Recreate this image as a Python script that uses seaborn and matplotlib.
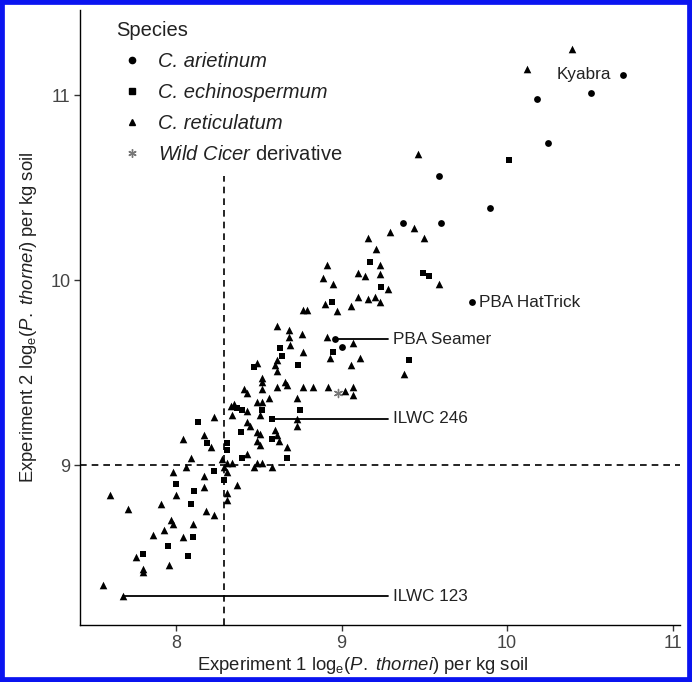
import matplotlib
matplotlib.use("Agg")
import matplotlib.pyplot as plt
import seaborn as sns
import pandas as pd
from matplotlib.lines import Line2D
from matplotlib.patches import Rectangle

# ---- data ----
ari_x = [10.70, 10.51, 10.18, 10.25, 9.59, 9.90, 9.37, 9.60, 9.79, 8.96, 9.00]
ari_y = [11.11, 11.01, 10.98, 10.74, 10.56, 10.39, 10.31, 10.31, 9.88, 9.68, 9.64]

ech_x = [10.01, 9.17, 9.49, 9.53, 9.24, 8.94, 9.41, 8.95, 8.63, 8.64, 8.74, 8.47,
         8.37, 8.40, 8.52, 8.75, 8.58, 8.13, 8.39, 8.58, 8.19, 8.31, 8.31, 8.67,
         8.40, 8.23, 8.00, 8.29, 8.11, 8.09, 8.10, 7.95, 7.80, 8.07]
ech_y = [10.65, 10.10, 10.04, 10.02, 9.96, 9.88, 9.57, 9.61, 9.63, 9.59, 9.54, 9.53,
         9.31, 9.30, 9.30, 9.30, 9.25, 9.23, 9.18, 9.14, 9.12, 9.12, 9.08, 9.04,
         9.04, 8.97, 8.90, 8.92, 8.86, 8.79, 8.61, 8.56, 8.52, 8.51]

ret_x = [10.39, 10.12, 9.46, 9.44, 9.50, 9.59, 9.29, 9.16, 9.21, 9.23, 8.91, 8.89,
         8.95, 9.10, 9.14, 9.23, 9.28, 9.10, 9.16, 9.20, 9.23, 8.90, 9.06, 8.97,
         8.77, 8.79, 9.38, 8.91, 9.07, 8.93, 9.11, 9.06, 8.61, 8.68, 8.76, 8.68,
         8.69, 8.77, 8.61, 8.60, 8.61, 8.49, 8.52, 8.52, 8.41, 8.43, 8.52, 8.61,
         8.66, 8.67, 8.77, 8.83, 8.92, 9.02, 9.07, 9.07, 8.73, 8.33, 8.35, 8.43,
         8.49, 8.56, 8.52, 8.51, 8.34, 8.23, 8.73, 8.73, 8.43, 8.45, 8.49, 8.51,
         8.60, 8.61, 8.62, 8.04, 8.17, 8.21, 8.49, 8.51, 8.67, 8.09, 8.28, 8.31,
         8.34, 8.43, 8.49, 8.52, 8.58, 8.47, 8.06, 8.31, 7.98, 8.17, 8.17, 8.37,
         8.00, 8.31, 8.31, 7.60, 7.71, 7.91, 8.18, 8.23, 7.97, 7.98, 8.10, 7.93,
         7.86, 8.04, 7.76, 7.96, 7.80, 7.80, 7.56, 7.68, 8.29]
ret_y = [11.25, 11.14, 10.68, 10.28, 10.23, 9.98, 10.26, 10.23, 10.17, 10.08, 10.08, 10.01,
         9.98, 10.04, 10.02, 10.03, 9.95, 9.91, 9.90, 9.91, 9.88, 9.87, 9.86, 9.83,
         9.84, 9.84, 9.49, 9.69, 9.66, 9.58, 9.58, 9.54, 9.75, 9.73, 9.71, 9.69,
         9.65, 9.61, 9.57, 9.54, 9.51, 9.55, 9.47, 9.45, 9.41, 9.39, 9.41, 9.42,
         9.45, 9.43, 9.42, 9.42, 9.42, 9.40, 9.42, 9.38, 9.36, 9.32, 9.33, 9.29,
         9.34, 9.36, 9.34, 9.27, 9.27, 9.26, 9.25, 9.21, 9.23, 9.21, 9.18, 9.17,
         9.19, 9.16, 9.13, 9.14, 9.16, 9.10, 9.13, 9.11, 9.10, 9.04, 9.03, 9.01,
         9.01, 9.06, 9.01, 9.01, 8.99, 8.99, 8.99, 8.96, 8.96, 8.94, 8.88, 8.89,
         8.84, 8.85, 8.81, 8.84, 8.76, 8.79, 8.75, 8.73, 8.70, 8.68, 8.68, 8.65,
         8.62, 8.61, 8.50, 8.46, 8.44, 8.42, 8.35, 8.29, 8.99]

wild_x = [8.98]
wild_y = [9.39]

species_names = ["C. arietinum", "C. echinospermum", "C. reticulatum", "Wild Cicer derivative"]

label_names = ["Kyabra", "PBA HatTrick", "PBA Seamer", "ILWC 246", "ILWC 123"]
label_px = [10.70, 9.79, 8.96, 8.58, 7.68]
label_py = [11.11, 9.88, 9.68, 9.25, 8.29]
label_tx = [10.63, 9.83, 9.31, 9.31, 9.31]

vline_x = 8.29
hline_y = 9.0
x_ticks = [8, 9, 10, 11]
y_ticks = [9, 10, 11]

# ---- build frame ----
df = pd.concat([
    pd.DataFrame({"x": ari_x, "y": ari_y, "species": species_names[0]}),
    pd.DataFrame({"x": ech_x, "y": ech_y, "species": species_names[1]}),
    pd.DataFrame({"x": ret_x, "y": ret_y, "species": species_names[2]}),
], ignore_index=True)
df_w = pd.DataFrame({"x": wild_x, "y": wild_y, "species": species_names[3]})

sns.set_theme(style="white")
plt.rcParams["font.family"] = ["Liberation Sans", "DejaVu Sans"]
plt.rcParams["mathtext.fontset"] = "custom"
plt.rcParams["mathtext.rm"] = "Liberation Sans"
plt.rcParams["mathtext.it"] = "Liberation Sans:italic"

fig = plt.figure(figsize=(6.92, 6.82), dpi=100)
ax = fig.add_axes([80 / 692, 57 / 682, 600 / 692, 615 / 682])

mk = {species_names[0]: "o", species_names[1]: "s", species_names[2]: "^"}
sizes = {species_names[0]: 24, species_names[1]: 22, species_names[2]: 30}
for sp in species_names[:3]:
    sns.scatterplot(data=df[df.species == sp], x="x", y="y", marker=mk[sp],
                    color="black", s=sizes[sp], linewidth=0, ax=ax, legend=False)
sns.scatterplot(data=df_w, x="x", y="y", marker=(6, 2, 0), color="#777777",
                s=34, linewidth=1.0, ax=ax, legend=False)

ax.axvline(vline_x, ymin=0, ymax=0.73, color="black", lw=1.2, ls=(0, (4, 3)), zorder=0)
ax.axhline(hline_y, color="black", lw=1.2, ls=(0, (4, 3)), zorder=0)

# annotations
ann_fs = 12.3
for name, px, py, tx in zip(label_names, label_px, label_py, label_tx):
    if name == "Kyabra":
        ax.text(tx, py, name, ha="right", va="center", fontsize=ann_fs, color="#222222")
    elif name == "PBA HatTrick":
        ax.text(tx, py, name, ha="left", va="center", fontsize=ann_fs, color="#222222")
    else:
        ax.plot([px, tx - 0.03], [py, py], color="black", lw=1.3, zorder=1)
        ax.text(tx, py, name, ha="left", va="center", fontsize=ann_fs, color="#222222")

ax.set_xlim(7.42, 11.045)
ax.set_ylim(8.135, 11.46)
ax.set_xticks(x_ticks)
ax.set_yticks(y_ticks)
ax.tick_params(axis="both", which="both", direction="out", length=4, width=1,
               color="#333333", labelsize=13, labelcolor="#444444", bottom=True, left=True,
               pad=3)
for s in ["top", "right"]:
    ax.spines[s].set_visible(False)
for s in ["left", "bottom"]:
    ax.spines[s].set_color("black")
    ax.spines[s].set_linewidth(1.0)

ax.set_xlabel(r"Experiment 1 log$_\mathrm{e}$($\it{P.}$ $\it{thornei}$) per kg soil",
              fontsize=13.3, color="#222222")
ax.xaxis.set_label_coords((363 - 80) / 600, -0.048)
ax.set_ylabel(r"Experiment 2 log$_\mathrm{e}$($\it{P.}$ $\it{thornei}$) per kg soil",
              fontsize=13.3, color="#222222", labelpad=8)

handles = [
    Line2D([], [], ls="", marker="o", color="black", markersize=4.5),
    Line2D([], [], ls="", marker="s", color="black", markersize=4.5),
    Line2D([], [], ls="", marker="^", color="black", markersize=5),
    Line2D([], [], ls="", marker=(6, 2, 0), color="#777777", markersize=6, markeredgewidth=1),
]
labels = ["C. arietinum", "C. echinospermum", "C. reticulatum",
          r"$\it{Wild}$ $\it{Cicer}$ derivative"]
leg = ax.legend(handles, labels, title="Species", loc="upper left",
                bbox_to_anchor=(36 / 600, 1.0 - 11 / 615), borderpad=0.0,
                frameon=False, fontsize=14.5, title_fontsize=14.5, handletextpad=0.5,
                labelspacing=0.6, borderaxespad=0.0, handlelength=1.6)
leg._legend_box.align = "left"
for i, t in enumerate(leg.get_texts()):
    t.set_color("#222222")
    if i < 3:
        t.set_fontstyle("italic")
leg.get_title().set_color("#222222")

fig.patches.append(Rectangle((0, 0), 1, 1, transform=fig.transFigure, fill=False,
                             edgecolor="#0a14f0", linewidth=7, zorder=10))

fig.savefig("out.png", dpi=100, facecolor="white")
